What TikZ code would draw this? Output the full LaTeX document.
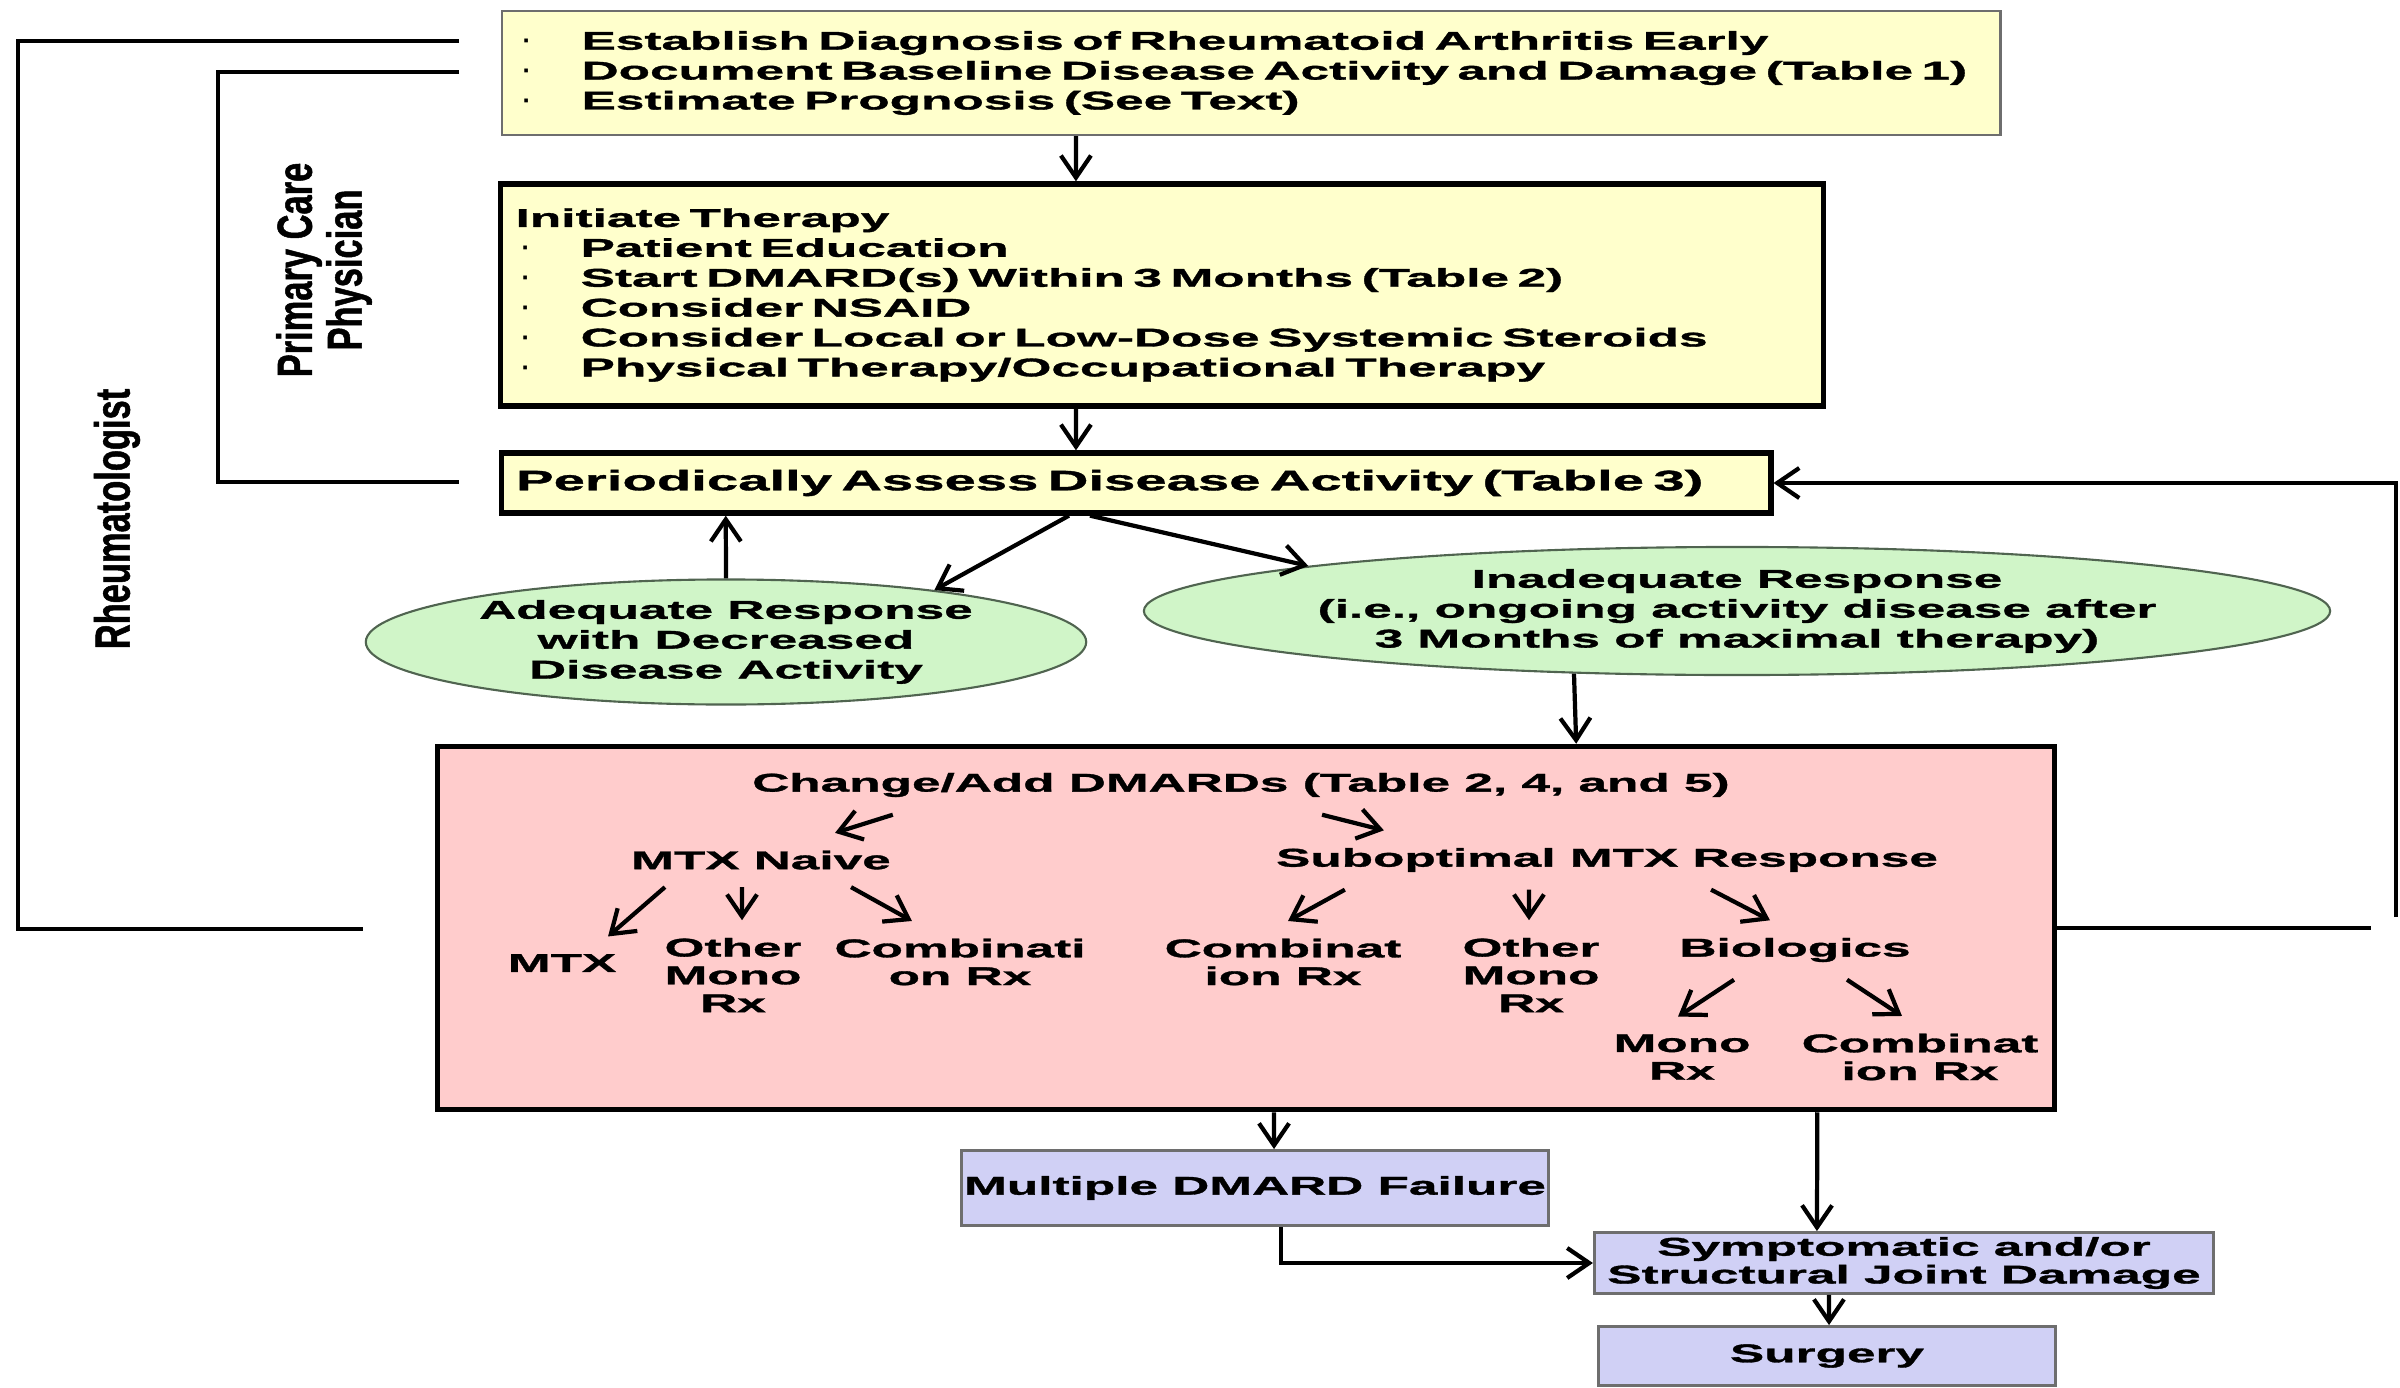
\documentclass[tikz,border=0pt]{standalone}
\usepackage{fontspec}
\setmainfont{Liberation Sans}
\newfontfamily\widefont[FakeStretch=2.0,BoldFeatures={FakeBold=1.3}]{Liberation Sans}
\newfontfamily\narrowfont[FakeStretch=0.7,BoldFeatures={FakeBold=1}]{Liberation Sans}
\usetikzlibrary{arrows.meta,shapes.geometric}

\definecolor{boxyellow}{RGB}{255,255,204}
\definecolor{respgreen}{RGB}{208,245,200}
\definecolor{respedge}{RGB}{80,100,80}
\definecolor{dmardpink}{RGB}{255,204,204}
\definecolor{endlilac}{RGB}{208,208,245}
\definecolor{edgegray}{RGB}{110,110,110}

\newcommand{\boxfnt}{\widefont\bfseries\fontsize{7.3}{8.5}\selectfont}
\newcommand{\asfnt}{\widefont\bfseries\fontsize{8}{9}\selectfont}
\newcommand{\dmfnt}{\widefont\bfseries\fontsize{7.3}{7.9}\selectfont}
\newcommand{\sidefnt}{\narrowfont\bfseries\fontsize{14}{14.2}\selectfont}
\newcommand{\itm}[1]{\makebox[0.65cm][l]{\hspace{0.06cm}{\rmfamily\bfseries ·}}#1}

\begin{document}
\begin{tikzpicture}[x=0.01cm,y=-0.01cm,
    conn/.style={line width=1.2pt},
    arr/.style={conn,-{Straight Barb[length=0.22cm,width=0.3cm]}},
    ybox/.style={rectangle,fill=boxyellow,align=left,inner xsep=0.15cm,inner ysep=0pt,font=\boxfnt},
    resp/.style={ellipse,fill=respgreen,draw=respedge,line width=0.6pt,inner sep=0pt,align=center,font=\boxfnt},
    lbl/.style={align=center,inner xsep=0pt,inner ysep=0.17cm,font=\dmfnt},
    lbox/.style={rectangle,fill=endlilac,draw=edgegray,line width=0.8pt,inner sep=0pt,align=center,font=\dmfnt},
    side/.style={rotate=90,align=center,font=\sidefnt}]
  \useasboundingbox (0,0) rectangle (2400,1388);

  % first steps
  \node[ybox,draw=edgegray,line width=0.6pt,text width=14.68cm,minimum height=1.24cm] (tbox) at (1251,73)
    {\itm{Establish Diagnosis of Rheumatoid Arthritis Early}\\
     \itm{Document Baseline Disease Activity and Damage (Table 1)}\\
     \itm{Estimate Prognosis (See Text)}};
  \node[ybox,draw,line width=1.5pt,text width=12.92cm,minimum height=2.22cm] (ibox) at (1162,295)
    {Initiate Therapy\\
     \itm{Patient Education}\\
     \itm{Start DMARD(s) Within 3 Months (Table 2)}\\
     \itm{Consider NSAID}\\
     \itm{Consider Local or Low-Dose Systemic Steroids}\\
     \itm{Physical Therapy/Occupational Therapy}};
  \node[ybox,draw,line width=1.5pt,text width=12.39cm,minimum height=0.6cm,font=\asfnt] (pbox) at (1136,483)
    {Periodically Assess Disease Activity (Table 3)};

  % responses
  \node[resp,minimum width=7.2cm,minimum height=1.25cm] (aresp) at (726,642)
    {Adequate Response\\with Decreased\\Disease Activity};
  \node[resp,minimum width=11.82cm,minimum height=1.28cm] (iresp) at (1737,611)
    {Inadequate Response\\(i.e., ongoing activity disease after\\3 Months of maximal therapy)};

  % DMARDs
  \node[draw,line width=1.5pt,fill=dmardpink,minimum width=16.16cm,minimum height=3.63cm] (rbox) at (1246,928) {};
  \node[lbl] (chg) at (1241,785) {Change/Add DMARDs (Table 2, 4, and 5)};
  \node[lbl] (naive) at (761,860) {MTX Naive};
  \node[lbl] (subopt) at (1607,860) {Suboptimal MTX Response};
  \node[lbl] (mtx) at (562,963) {MTX};
  \node[lbl] (om1) at (733,975) {Other\\Mono\\Rx};
  \node[lbl] (cb1) at (960,962) {Combinati\\on Rx};
  \node[lbl] (cb2) at (1283,962) {Combinat\\ion Rx};
  \node[lbl] (om2) at (1531,975) {Other\\Mono\\Rx};
  \node[lbl] (bio) at (1795,950) {Biologics};
  \node[lbl] (mono) at (1682,1057) {Mono\\Rx};
  \node[lbl] (cb3) at (1920,1057) {Combinat\\ion Rx};

  % outcomes
  \node[lbox,minimum width=5.87cm,minimum height=0.75cm] (mbox) at (1255,1188) {Multiple DMARD Failure};
  \node[lbox,minimum width=6.19cm,minimum height=0.61cm] (sbox) at (1904,1263) {Symptomatic and/or\\Structural Joint Damage};
  \node[lbox,minimum width=4.57cm,minimum height=0.59cm] (surg) at (1827,1356) {Surgery};

  % who does what
  \node[side] (pcp) at (324,270) {Primary Care\\Physician};
  \node[side] (rheum) at (117,519) {Rheumatologist};
  \coordinate (rh1) at (459,41);
  \coordinate (rh2) at (363,929);
  \coordinate (pc1) at (459,72);
  \coordinate (pc2) at (459,482);
  \draw[conn] (rh1) -- (18,41) -- (18,929) -- (rh2);
  \draw[conn] (pc1) -- (218,72) -- (218,482) -- (pc2);

  % main flow
  \draw[arr] ([xshift=-1.75cm]tbox.south) -- ([xshift=-0.86cm]ibox.north);
  \draw[arr] ([xshift=-0.86cm]ibox.south) -- ([xshift=-0.60cm]pbox.north);
  \draw[arr] (aresp.north) -- ([xshift=-4.10cm]pbox.south);
  \draw[arr] ([xshift=-0.67cm]pbox.south) -- (aresp.14);
  \draw[arr] ([xshift=-0.46cm]pbox.south) -- (iresp.174);
  \draw[arr] (iresp.201) -- ([xshift=3.30cm]rbox.north);

  % loop back
  \coordinate (lp1) at (2371,928);
  \coordinate (lp2) at (2396,917);
  \draw[conn] (rbox.east) -- (lp1);
  \draw[arr] (lp2) |- (pbox.east);

  % inside DMARD box
  \draw[arr] ([xshift=-3.48cm]chg.south) -- ([xshift=0.74cm]naive.north);
  \draw[arr] ([xshift=0.81cm]chg.south) -- ([xshift=-2.23cm]subopt.north);
  \draw[arr] ([xshift=-0.96cm]naive.south) -- ([xshift=0.46cm]mtx.north);
  \draw[arr] ([xshift=-0.19cm]naive.south) -- ([xshift=0.09cm]om1.north);
  \draw[arr] ([xshift=0.90cm]naive.south) -- ([xshift=-0.48cm]cb1.north);
  \draw[arr] ([xshift=-2.62cm]subopt.south) -- ([xshift=0.05cm]cb2.north);
  \draw[arr] ([xshift=-0.78cm]subopt.south) -- ([xshift=-0.02cm]om2.north);
  \draw[arr] ([xshift=1.04cm]subopt.south) -- ([xshift=-0.25cm]bio.north);
  \draw[arr] ([xshift=-0.61cm]bio.south) -- ([xshift=-0.04cm]mono.north);
  \draw[arr] ([xshift=0.52cm]bio.south) -- ([xshift=-0.18cm]cb3.north);

  % to outcomes
  \draw[arr] ([xshift=0.28cm]rbox.south) -- ([xshift=0.19cm]mbox.north);
  \draw[arr] ([xshift=5.71cm]rbox.south) -- ([xshift=-0.87cm]sbox.north);
  \draw[arr] ([xshift=0.26cm]mbox.south) |- (sbox.west);
  \draw[arr] ([xshift=-0.75cm]sbox.south) -- ([xshift=0.02cm]surg.north);
\end{tikzpicture}
\end{document}
